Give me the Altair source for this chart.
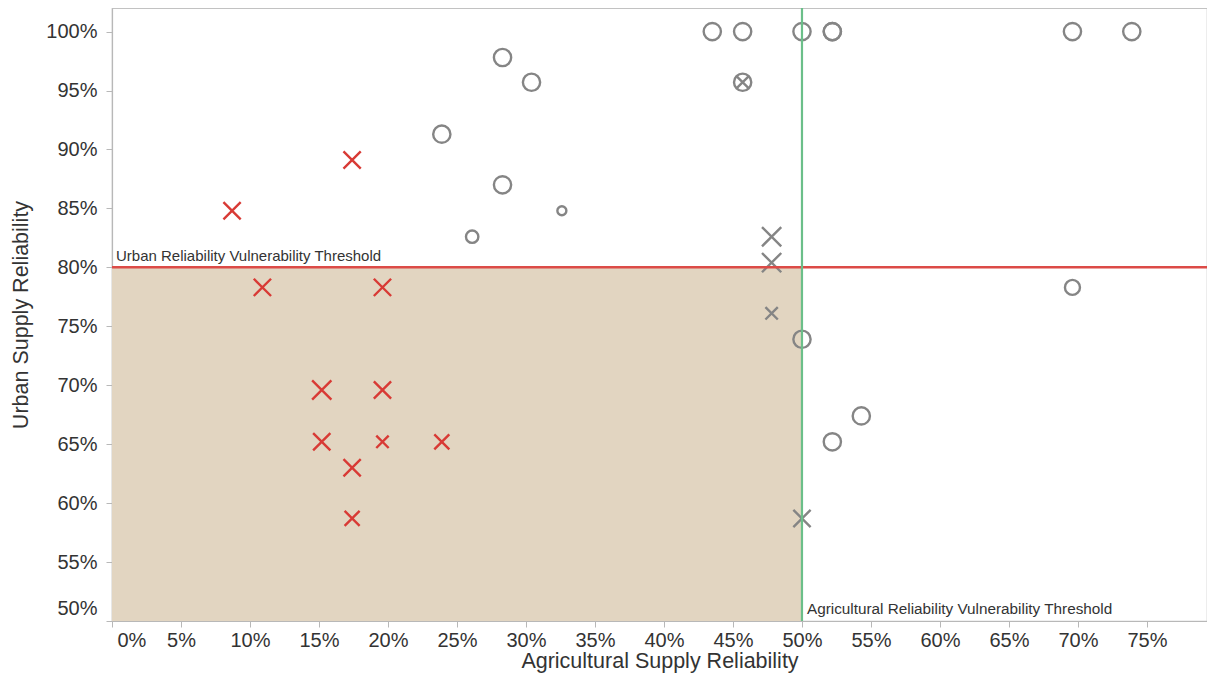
import altair as alt
import pandas as pd

# ---- data ----
ag_reliability = [0.087, 0.174, 0.109, 0.196, 0.152, 0.196, 0.152, 0.196, 0.239, 0.174, 0.174,
                  0.478, 0.478, 0.478, 0.500, 0.457,
                  0.435, 0.457, 0.500, 0.522, 0.522, 0.696, 0.739, 0.283, 0.304, 0.457,
                  0.239, 0.283, 0.326, 0.261, 0.696, 0.500, 0.543, 0.522]
urban_reliability = [0.848, 0.891, 0.783, 0.783, 0.696, 0.696, 0.652, 0.652, 0.652, 0.630, 0.587,
                     0.826, 0.804, 0.761, 0.587, 0.957,
                     1.000, 1.000, 1.000, 1.000, 1.000, 1.000, 1.000, 0.978, 0.957, 0.957,
                     0.913, 0.870, 0.848, 0.826, 0.783, 0.739, 0.674, 0.652]
marker = ["X"] * 16 + ["O"] * 18
group = ["Vulnerable"] * 11 + ["Other"] * 23
weight = [4, 4, 4, 4, 5, 4, 4, 2, 3, 4, 3,
          5, 5, 2, 4, 2,
          4, 4, 4, 4, 4, 4, 4, 4, 4, 4,
          4, 4, 1, 2, 3, 4, 4, 4]

ag_threshold = 0.5
urban_threshold = 0.8
x_ticks = [0.0, 0.05, 0.10, 0.15, 0.20, 0.25, 0.30, 0.35, 0.40, 0.45, 0.50, 0.55, 0.60, 0.65, 0.70, 0.75]
y_ticks = [0.50, 0.55, 0.60, 0.65, 0.70, 0.75, 0.80, 0.85, 0.90, 0.95, 1.00]

df = pd.DataFrame({"ag": ag_reliability, "urban": urban_reliability,
                   "marker": marker, "group": group, "weight": weight})
thr = pd.DataFrame({"x0": [0.0], "x1": [ag_threshold], "y0": [0.5], "y1": [urban_threshold]})

FONT = "Liberation Sans"
xscale = alt.Scale(domain=[0, 0.7935], nice=False, zero=False)
yscale = alt.Scale(domain=[0.5, 1.02], nice=False, zero=False)

x_axis = alt.Axis(title="Agricultural Supply Reliability", format=".0%", values=x_ticks,
                  grid=False, labelFlush=True, labelFlushOffset=-5, tickSize=6,
                  labelPadding=3, titlePadding=0)
y_axis = alt.Axis(title="Urban Supply Reliability", format=".0%", values=y_ticks,
                  grid=False, labelFlush=True, labelFlushOffset=-3, tickSize=6,
                  labelPadding=9, titlePadding=13)

base = alt.Chart(df)

rect = alt.Chart(thr).mark_rect(color="#e2d5c1").encode(
    x=alt.X("x0:Q", scale=xscale, axis=x_axis),
    x2="x1:Q",
    y=alt.Y("y0:Q", scale=yscale, axis=y_axis),
    y2="y1:Q",
)

points = base.mark_point(filled=False, strokeWidth=2.4, opacity=1).encode(
    x=alt.X("ag:Q", scale=xscale),
    y=alt.Y("urban:Q", scale=yscale),
    shape=alt.Shape("marker:N", scale=alt.Scale(domain=["X", "O"],
                    range=["M-1,-1L1,1M-1,1L1,-1", "circle"]), legend=None),
    color=alt.Color("group:N", scale=alt.Scale(domain=["Vulnerable", "Other"],
                    range=["#d83a35", "#858585"]), legend=None),
    size=alt.Size("weight:Q", scale=alt.Scale(domain=[1, 5], range=[81, 370], zero=False),
                  legend=None),
)

hline = alt.Chart(thr).mark_rule(color="#dc4b47", strokeWidth=2.5).encode(
    y=alt.Y("y1:Q", scale=yscale))
vline = alt.Chart(thr).mark_rule(color="#6bbf89", strokeWidth=2.2).encode(
    x=alt.X("x1:Q", scale=xscale))

urban_text = alt.Chart(thr).mark_text(
    text="Urban Reliability Vulnerability Threshold", align="left", baseline="bottom",
    dx=4, dy=-3, font=FONT, fontSize=15, color="#333333").encode(
    x=alt.X("x0:Q", scale=xscale), y=alt.Y("y1:Q", scale=yscale))
ag_text = alt.Chart(thr).mark_text(
    text="Agricultural Reliability Vulnerability Threshold", align="left", baseline="bottom",
    dx=5, dy=-4, font=FONT, fontSize=15.3, color="#333333").encode(
    x=alt.X("x1:Q", scale=xscale), y=alt.Y("y0:Q", scale=yscale))

chart = alt.layer(rect, points, hline, vline, urban_text, ag_text).properties(
    width=1095, height=613,
    autosize=alt.AutoSizeParams(type="none"),
    padding={"left": 104, "top": 0, "right": 0, "bottom": 57},
).configure_view(stroke="#c2c2c2", strokeWidth=1.2).configure_axis(
    domainColor="#b8b8b8", tickColor="#b8b8b8", labelFont=FONT, titleFont=FONT,
    labelFontSize=20, titleFontSize=21.5, labelColor="#333333", titleColor="#333333",
    titleFontWeight="normal", domainWidth=1.2,
)

chart.save("out.html", embed_options={"renderer": "svg", "actions": False})
